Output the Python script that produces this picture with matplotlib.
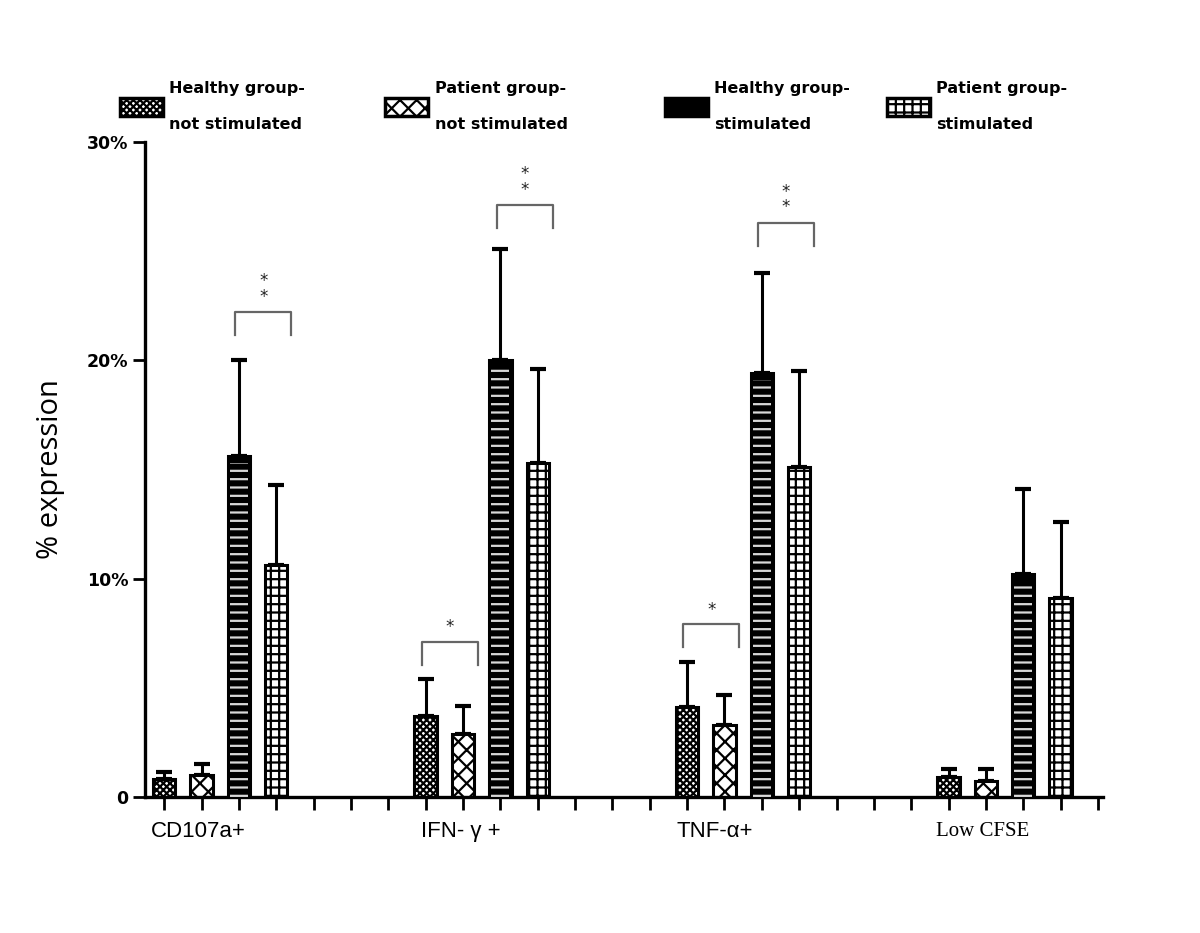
#!/usr/bin/env python3
import numpy as np
import matplotlib
matplotlib.use('Agg')
import matplotlib.pyplot as plt
from matplotlib.patches import Patch

# categories and series (values in %)
groups = ['CD107a+', 'IFN- γ +', 'TNF-α+', 'Low CFSE']
series = ['Healthy group-\nnot stimulated', 'Patient group-\nnot stimulated',
          'Healthy group-\nstimulated', 'Patient group-\nstimulated']
hn_mean = [0.8, 3.7, 4.1, 0.9]
hn_err = [0.35, 1.7, 2.1, 0.4]
pn_mean = [1.0, 2.9, 3.3, 0.75]
pn_err = [0.5, 1.25, 1.35, 0.55]
hs_mean = [15.6, 20.0, 19.4, 10.2]
hs_err = [4.4, 5.1, 4.6, 3.9]
ps_mean = [10.6, 15.3, 15.1, 9.1]
ps_err = [3.7, 4.3, 4.4, 3.5]

# significance brackets: (group index, bar a, bar b, height, label)
sig = [(0, 2, 3, 22.2, '**'), (1, 0, 1, 7.1, '*'), (1, 2, 3, 27.1, '**'),
       (2, 0, 1, 7.9, '*'), (2, 2, 3, 26.3, '**')]

yticks = [0, 10, 20, 30]
yticklabels = ['0', '10%', '20%', '30%']

plt.rcParams['hatch.linewidth'] = 1.6

fig = plt.figure(figsize=(12, 9.33), dpi=100)
ax = fig.add_axes([0.121, 0.1458, 0.798, 0.7022])

starts = np.array([0, 7, 14, 21])
width = 0.6
means = [hn_mean, pn_mean, hs_mean, ps_mean]
errs = [hn_err, pn_err, hs_err, ps_err]
styles = [dict(facecolor='white', hatch='xxxxx'),
          dict(facecolor='white', hatch='xx'),
          dict(facecolor='black', hatch=None),
          dict(facecolor='white', hatch='++')]

for i in range(4):
	x = starts + i
	m = np.array(means[i])
	e = np.array(errs[i])
	ax.errorbar(x, m, yerr=[np.zeros_like(e), e], fmt='none', ecolor='black',
				elinewidth=2.2, capsize=6, capthick=3, zorder=1)
	ax.bar(x, m, width, color=styles[i]['facecolor'], edgecolor='black',
		   hatch=styles[i]['hatch'], linewidth=2.2, zorder=2)
	if i == 2:
		# light stripes over the black bars
		ax.bar(x, np.array(m) - 0.3, width * 0.8, color='none', edgecolor='#d8d8d8',
			   hatch='--', linewidth=0, zorder=3)

# significance brackets
for g, a, b, h, lab in sig:
	x0 = starts[g] + a - 0.1
	x1 = starts[g] + b + 0.4
	ax.plot([x0, x0, x1, x1], [h - 1.05, h, h, h - 1.05], color='#666666', lw=1.6, zorder=4)
	xc = (x0 + x1) / 2
	if lab == '**':
		ax.text(xc, h + 0.3, '*\n*', ha='center', va='bottom', fontsize=12,
				linespacing=0.8, color='#222222')
	else:
		ax.text(xc, h + 0.25, '*', ha='center', va='bottom', fontsize=12, color='#222222')

ax.set_xlim(-0.51, 25.13)
ax.set_ylim(0, 30)
ax.set_xticks(np.arange(26))
ax.set_xticklabels([])
ax.set_yticks(yticks)
ax.set_yticklabels(yticklabels, fontweight='bold', fontsize=12.5, family='DejaVu Sans')
ax.tick_params(axis='x', direction='out', length=9, width=2)
ax.tick_params(axis='y', direction='out', length=9, width=2, pad=3)
for s in ['top', 'right']:
	ax.spines[s].set_visible(False)
for s in ['left', 'bottom']:
	ax.spines[s].set_linewidth(2.4)

# group labels
label_off = [0.9, 0.95, 0.75, 0.9]
for g in range(4):
	if g == 3:
		ax.text(starts[g] + label_off[g], -1.6, groups[g], ha='center', va='center',
				fontsize=15, family='Liberation Serif')
	else:
		ax.text(starts[g] + label_off[g], -1.6, groups[g], ha='center', va='center',
				fontsize=16, family='Liberation Sans')

ax.set_ylabel('% expression', fontsize=21, family='Open Sans', labelpad=16)

# legend: four separate entries along the top
leg_x = [0.088, 0.309, 0.542, 0.727]
for i in range(4):
	h = Patch(facecolor=styles[i]['facecolor'], edgecolor='black',
			  hatch=styles[i]['hatch'] if i != 2 else None, linewidth=2.5)
	leg = fig.legend([h], [series[i]], loc='center left', bbox_to_anchor=(leg_x[i], 0.886),
					 frameon=False, handlelength=2.7, handleheight=1.4, handletextpad=0.4,
					 prop=dict(weight='bold', size=11.5, family='DejaVu Sans'))
	for t in leg.get_texts():
		t.set_linespacing(2.7)

fig.savefig('out.png', dpi=100)
